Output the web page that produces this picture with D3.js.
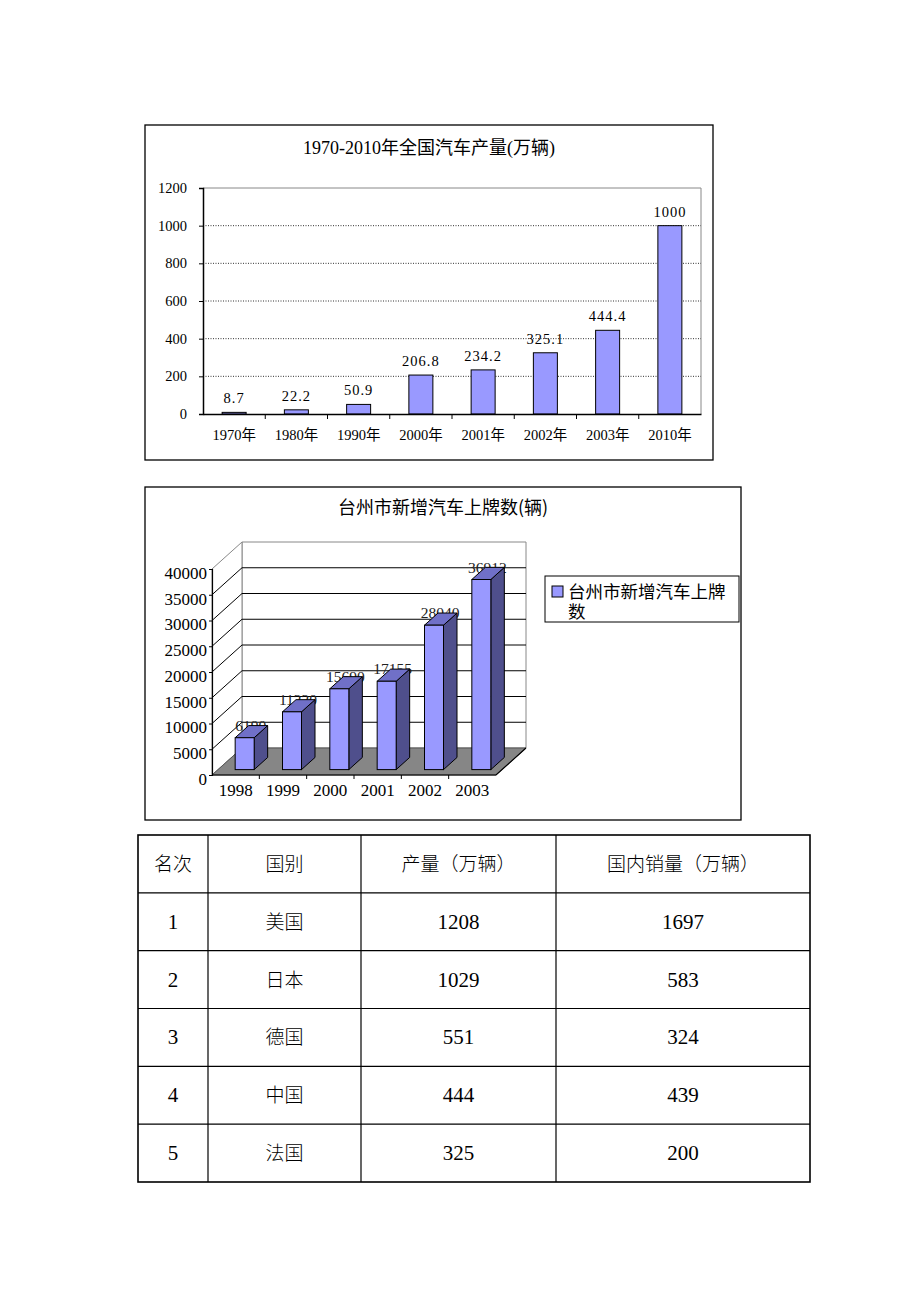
<!DOCTYPE html>
<html>
<head>
<meta charset="utf-8">
<script src="https://cdn.jsdelivr.net/npm/d3@7"></script>
<style>
  html, body { margin: 0; padding: 0; background: #fff; }
  svg { display: block; }
</style>
</head>
<body>
<script>
// ---------------- DATA ----------------
const prodTitle = "1970-2010年全国汽车产量(万辆)";
const prodYears = ["1970年", "1980年", "1990年", "2000年", "2001年", "2002年", "2003年", "2010年"];
const prodValues = [8.7, 22.2, 50.9, 206.8, 234.2, 325.1, 444.4, 1000];
const prodTicks = [0, 200, 400, 600, 800, 1000, 1200];

const tzTitle = "台州市新增汽车上牌数(辆)";
const tzSeriesName = ["台州市新增汽车上牌", "数"];
const tzYears = ["1998", "1999", "2000", "2001", "2002", "2003"];
const tzValues = [6190, 11220, 15690, 17155, 28040, 36912];
const tzTicks = [0, 5000, 10000, 15000, 20000, 25000, 30000, 35000, 40000];

const tableHeader = ["名次", "国别", "产量（万辆）", "国内销量（万辆）"];
const ranks = [1, 2, 3, 4, 5];
const countries = ["美国", "日本", "德国", "中国", "法国"];
const outputs = [1208, 1029, 551, 444, 325];
const domesticSales = [1697, 583, 324, 439, 200];

// ---------------- DRAW ----------------
const W = 920, H = 1302;
const svg = d3.select("body").append("svg").attr("width", W).attr("height", H);
svg.append("rect").attr("width", W).attr("height", H).attr("fill", "#fff");

const serif = "'Liberation Serif', 'Noto Sans CJK SC', serif";
const cjk = "'Noto Sans CJK SC', 'Liberation Serif', sans-serif";
const barFill = "#9999ff";

// ===== Chart 1 =====
(function () {
  const box = { x: 145, y: 125, w: 568, h: 335 };
  const g = svg.append("g");
  g.append("rect").attr("x", box.x).attr("y", box.y).attr("width", box.w).attr("height", box.h)
    .attr("fill", "#fff").attr("stroke", "#000").attr("stroke-width", 1.3);

  g.append("text").attr("x", box.x + box.w / 2).attr("y", 154)
    .attr("text-anchor", "middle").attr("font-family", serif).attr("font-size", 18)
    .attr("fill", "#000").text(prodTitle);

  const pl = 203, pr = 701, pt = 188, pb = 414;
  const x = d3.scaleBand().domain(prodYears).range([pl, pr]).paddingInner(0).paddingOuter(0);
  const y = d3.scaleLinear().domain([0, 1200]).range([pb, pt]);

  // plot frame (top/right gray)
  g.append("path").attr("d", `M${pl},${pt}H${pr}V${pb}`).attr("fill", "none").attr("stroke", "#888").attr("stroke-width", 1);

  // gridlines
  g.selectAll(".grid").data(prodTicks.filter(d => d > 0 && d < 1200)).enter().append("line")
    .attr("x1", pl).attr("x2", pr).attr("y1", d => y(d)).attr("y2", d => y(d))
    .attr("stroke", "#333").attr("stroke-width", 1).attr("stroke-dasharray", "1,1.5");

  // bars
  const bw = 24;
  g.selectAll(".bar").data(prodValues).enter().append("rect")
    .attr("x", (d, i) => x(prodYears[i]) + x.bandwidth() / 2 - bw / 2)
    .attr("y", d => y(d)).attr("width", bw).attr("height", d => pb - y(d))
    .attr("fill", barFill).attr("stroke", "#000").attr("stroke-width", 1);

  // value labels
  g.selectAll(".vl").data(prodValues).enter().append("text")
    .attr("x", (d, i) => x(prodYears[i]) + x.bandwidth() / 2)
    .attr("y", d => y(d) - 9)
    .attr("text-anchor", "middle").attr("font-family", serif).attr("font-size", 14.5)
    .attr("letter-spacing", 1).attr("fill", "#000").text(d => String(d));

  // y axis
  const ya = g.append("g").attr("transform", `translate(${pl},0)`)
    .call(d3.axisLeft(y).tickValues(prodTicks).tickSize(4).tickPadding(12).tickFormat(d3.format("d")));
  ya.select(".domain").attr("stroke", "#000").attr("stroke-width", 1.5);
  ya.selectAll("text").attr("font-family", serif).attr("font-size", 14.5).attr("fill", "#000");

  // x axis
  const xa = g.append("g").attr("transform", `translate(0,${pb})`)
    .call(d3.axisBottom(x).tickSize(0).tickPadding(16));
  xa.select(".domain").attr("stroke", "#000").attr("stroke-width", 1.5);
  xa.selectAll("text").attr("font-family", serif).attr("font-size", 14.5).attr("fill", "#000");
  // category separator ticks
  g.selectAll(".xt").data(prodYears.slice(1)).enter().append("line")
    .attr("x1", d => x(d)).attr("x2", d => x(d)).attr("y1", pb).attr("y2", pb + 5)
    .attr("stroke", "#000").attr("stroke-width", 1);
})();

// ===== Chart 2 (3D) =====
(function () {
  const box = { x: 145, y: 487, w: 596, h: 333 };
  const g = svg.append("g");
  g.append("rect").attr("x", box.x).attr("y", box.y).attr("width", box.w).attr("height", box.h)
    .attr("fill", "#fff").attr("stroke", "#000").attr("stroke-width", 1.3);

  g.append("text").attr("x", box.x + box.w / 2).attr("y", 514)
    .attr("text-anchor", "middle").attr("font-family", cjk).attr("font-size", 18)
    .attr("fill", "#000").text(tzTitle);

  const fl = 212, fr = 496;           // front x range
  const dX = 30, dY = -27;            // depth vector
  const x = d3.scaleBand().domain(tzYears).range([fl, fr]);
  const yF = d3.scaleLinear().domain([0, 40000]).range([775, 569]);   // front plane
  const yB = v => yF(v) + dY;                                         // back plane
  const line = d3.line();

  // back wall
  g.append("path").attr("d", line([[fl + dX, yB(0)], [fr + dX, yB(0)], [fr + dX, yB(40000)], [fl + dX, yB(40000)]]) + "Z")
    .attr("fill", "#fff").attr("stroke", "#888").attr("stroke-width", 1);
  // left wall
  g.append("path").attr("d", line([[fl, yF(0)], [fl + dX, yB(0)], [fl + dX, yB(40000)], [fl, yF(40000)]]) + "Z")
    .attr("fill", "#fff").attr("stroke", "#888").attr("stroke-width", 1);

  const inner = tzTicks.filter(d => d > 0 && d < 40000);
  g.selectAll(".bg").data(inner).enter().append("line")
    .attr("x1", fl + dX).attr("x2", fr + dX).attr("y1", d => yB(d)).attr("y2", d => yB(d))
    .attr("stroke", "#000").attr("stroke-width", 1);
  g.selectAll(".lg").data(inner).enter().append("line")
    .attr("x1", fl).attr("x2", fl + dX).attr("y1", d => yF(d)).attr("y2", d => yB(d))
    .attr("stroke", "#000").attr("stroke-width", 1);

  // floor
  g.append("path").attr("d", line([[fl, yF(0)], [fr, yF(0)], [fr + dX, yB(0)], [fl + dX, yB(0)]]) + "Z")
    .attr("fill", "#868686").attr("stroke", "#555").attr("stroke-width", 1);
  g.append("path").attr("d", line([[fl, yF(0)], [fr, yF(0)], [fr + dX, yB(0)]]))
    .attr("fill", "none").attr("stroke", "#000").attr("stroke-width", 1.2);

  // y axis (front-left)
  const ya = g.append("g").attr("transform", `translate(${fl},0)`)
    .call(d3.axisLeft(yF).tickValues(tzTicks).tickSize(3).tickPadding(2).tickFormat(d3.format("d")));
  ya.select(".domain").attr("stroke", "#000").attr("stroke-width", 1.2);
  ya.selectAll("text").attr("font-family", serif).attr("font-size", 17).attr("fill", "#000").attr("dy", "0.55em");

  // x axis labels
  const xa = g.append("g").attr("transform", `translate(0,${yF(0)})`)
    .call(d3.axisBottom(x).tickSize(0).tickPadding(9));
  xa.select(".domain").remove();
  xa.selectAll("text").attr("font-family", serif).attr("font-size", 17).attr("fill", "#000");
  g.selectAll(".xt").data(tzYears.slice(1)).enter().append("line")
    .attr("x1", d => x(d)).attr("x2", d => x(d)).attr("y1", yF(0)).attr("y2", yF(0) + 4)
    .attr("stroke", "#000").attr("stroke-width", 1);

  // bars geometry
  const d1 = 0.2, d2 = 0.65, bw = 19;
  const geo = tzValues.map((v, i) => {
    const xl = x(tzYears[i]) + x.bandwidth() / 2 - 6.5 + dX * d1;
    const xr = xl + bw;
    const yb = yF(0) + dY * d1;
    const yt = yF(v) + dY * d1;
    const ox = dX * (d2 - d1), oy = dY * (d2 - d1);
    return { v, xl, xr, yb, yt, ox, oy };
  });

  // value labels (drawn beneath bars)
  g.selectAll(".vl").data(geo).enter().append("text")
    .attr("x", d => (d.xl + d.xr) / 2 + 6).attr("y", d => d.yt - 7)
    .attr("text-anchor", "middle").attr("font-family", serif).attr("font-size", 15.5)
    .attr("fill", "#222").text(d => d.v);

  const bars = g.selectAll(".bar3").data(geo).enter().append("g");
  bars.append("path").attr("d", d => line([[d.xr, d.yb], [d.xr, d.yt], [d.xr + d.ox, d.yt + d.oy], [d.xr + d.ox, d.yb + d.oy]]) + "Z")
    .attr("fill", "#4f4f8c").attr("stroke", "#000").attr("stroke-width", 1);
  bars.append("path").attr("d", d => line([[d.xl, d.yt], [d.xr, d.yt], [d.xr + d.ox, d.yt + d.oy], [d.xl + d.ox, d.yt + d.oy]]) + "Z")
    .attr("fill", "#7070c8").attr("stroke", "#000").attr("stroke-width", 1);
  bars.append("rect").attr("x", d => d.xl).attr("y", d => d.yt).attr("width", bw).attr("height", d => d.yb - d.yt)
    .attr("fill", barFill).attr("stroke", "#000").attr("stroke-width", 1);

  // legend
  const lg = g.append("g");
  lg.append("rect").attr("x", 545).attr("y", 576).attr("width", 194).attr("height", 46)
    .attr("fill", "#fff").attr("stroke", "#000").attr("stroke-width", 1);
  lg.append("rect").attr("x", 552).attr("y", 586).attr("width", 11).attr("height", 11)
    .attr("fill", barFill).attr("stroke", "#000").attr("stroke-width", 1);
  lg.selectAll(".lt").data(tzSeriesName).enter().append("text")
    .attr("x", 568).attr("y", (d, i) => 598 + i * 20)
    .attr("font-family", serif).attr("font-size", 17.5).attr("fill", "#000").text(d => d);
})();

// ===== Table =====
(function () {
  const g = svg.append("g");
  const colEdges = [138, 208, 361, 556, 810];
  const rowsData = [tableHeader].concat(ranks.map((r, i) => [String(r), countries[i], String(outputs[i]), String(domesticSales[i])]));
  const rowY = d3.scaleBand().domain(d3.range(rowsData.length)).range([835, 1182]);

  rowsData.forEach((row, ri) => {
    row.forEach((cell, ci) => {
      const isNum = /^\d+$/.test(cell);
      g.append("text")
        .attr("x", (colEdges[ci] + colEdges[ci + 1]) / 2)
        .attr("y", rowY(ri) + rowY.bandwidth() / 2 + 7)
        .attr("text-anchor", "middle")
        .attr("font-family", isNum ? serif : cjk)
        .attr("font-size", isNum ? 21 : 19)
        .attr("font-weight", 300)
        .attr("fill", "#000").text(cell);
    });
  });

  // inner horizontal lines
  g.selectAll(".hr").data(d3.range(1, rowsData.length)).enter().append("line")
    .attr("x1", colEdges[0]).attr("x2", colEdges[colEdges.length - 1])
    .attr("y1", d => rowY(d)).attr("y2", d => rowY(d)).attr("stroke", "#000").attr("stroke-width", 1.2);
  // inner vertical lines
  g.selectAll(".vr").data(colEdges.slice(1, -1)).enter().append("line")
    .attr("x1", d => d).attr("x2", d => d).attr("y1", 835).attr("y2", 1182)
    .attr("stroke", "#000").attr("stroke-width", 1.2);
  // outer border
  g.append("rect").attr("x", colEdges[0]).attr("y", 835)
    .attr("width", colEdges[colEdges.length - 1] - colEdges[0]).attr("height", 1182 - 835)
    .attr("fill", "none").attr("stroke", "#000").attr("stroke-width", 1.6);
})();
</script>
</body>
</html>
